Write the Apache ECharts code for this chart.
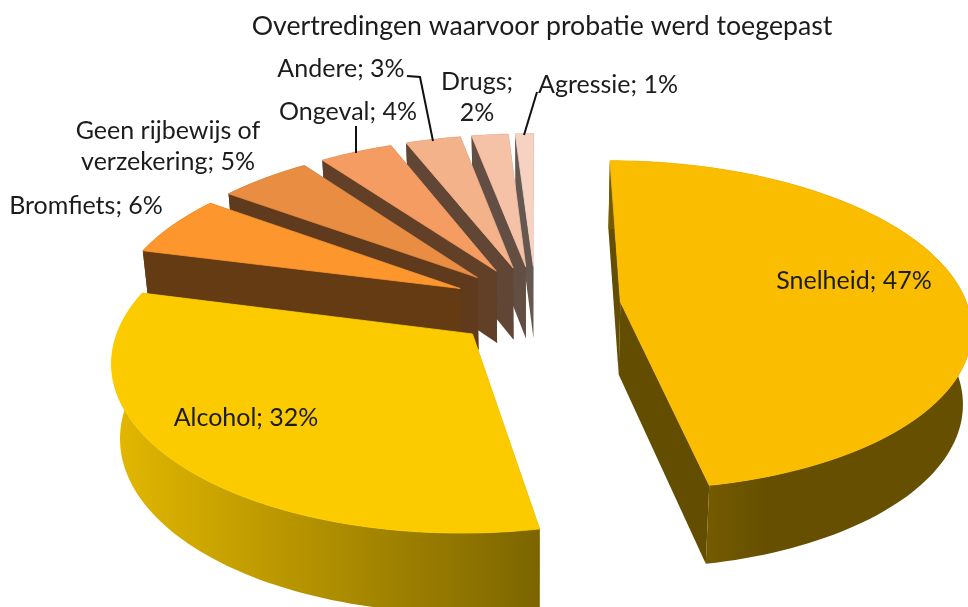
<!DOCTYPE html>
<html>
<head>
<meta charset="utf-8">
<style>html,body{margin:0;padding:0;background:#fff}#c{width:968px;height:607px}</style>
<script src="https://cdn.jsdelivr.net/npm/echarts@6/dist/echarts.min.js"></script>
</head>
<body>
<div id="c"></div>
<script>
const chartTitle = 'Overtredingen waarvoor probatie werd toegepast';
const categories = ['Snelheid','Alcohol','Bromfiets','Geen rijbewijs of verzekering','Ongeval','Andere','Drugs','Agressie'];
const percentages = [47,32,6,5,4,3,2,1];

const topColors  = ['#FBBD00','#FBCB00','#FD962D','#E98D42','#F59C62','#F4B28B','#F5C2A8','#F5D2C2'];
const wallColors = ['#634D00','#7C6500','#653B13','#5F3A1C','#623F27','#614635','#624E42','#645850'];
const outerStops = [['#745A00','#665000'],['#E3B800','#7C6500'],null,null,null,null,null,null];

// perspective model of the tilted, exploded pie
const P = {cx:536, cy:305.5, sx:347, sy:162, persp:0.142, ex:0.245, ey:0.25, depth:73, floorScale:0.98};
const total = percentages.reduce((a,b)=>a+b,0);
const rad = d => d*Math.PI/180;
function project(theta, r, mid, drop){
  const Xw = r*Math.sin(rad(theta)) + P.ex*Math.sin(rad(mid));
  const Yw = r*Math.cos(rad(theta)) + P.ey*Math.cos(rad(mid));
  const w = 1 + P.persp*Yw;
  const d = drop ? P.depth/Math.sqrt(w) : 0;
  const s = drop ? P.floorScale : 1;
  return [P.cx + s*P.sx*Xw/w, P.cy - P.sy*Yw/w + d];
}
function renderSlice(params, api){
  const i = params.dataIndex;
  let before = 0;
  for(let k=0;k<i;k++) before += percentages[k];
  const a0 = before/total*360, a1 = (before+api.value(0))/total*360, mid=(a0+a1)/2;
  const rank = i<2 ? 6+i : 7-i;
  const top=[], bottom=[], n=Math.max(6,Math.round((a1-a0)/1.5));
  for(let k=0;k<=n;k++){
    const t=a0+(a1-a0)*k/n;
    top.push(project(t,1,mid,false));
    bottom.push(project(t,1,mid,true));
  }
  const apex=project(0,0,mid,false), apexB=project(0,0,mid,true);
  const poly=(pts,fill,order,stroke)=>({type:'polygon',z2:rank*10+order,shape:{points:pts},
    style:{fill:fill,stroke:stroke||null,lineWidth:stroke?0.8:0}});
  let outerFill = wallColors[i];
  if(outerStops[i]){
    const xs=top.concat(bottom).map(p=>p[0]);
    const leftToRight = i===1;
    const gx0 = leftToRight ? Math.min.apply(null,xs) : top[n][0];
    const gx1 = leftToRight ? top[0][0] : top[n][0]+55;
    outerFill={type:'linear',global:true,x:gx0,y:0,x2:gx1,y2:0,
      colorStops:[{offset:0,color:outerStops[i][0]},{offset:1,color:outerStops[i][1]}]};
  }
  return {type:'group',children:[
    poly([top[0],apex,apexB,bottom[0]],wallColors[i],0),
    poly([top[n],apex,apexB,bottom[n]],wallColors[i],1),
    poly(top.concat(bottom.slice().reverse()),outerFill,2),
    poly([apex].concat(top),topColors[i],3,topColors[i])
  ]};
}

const lineBreaks = {'Geen rijbewijs of verzekering':'Geen rijbewijs of\nverzekering','Drugs':'Drugs;\n'};
function labelText(i){
  const c=categories[i], lb=lineBreaks[c];
  if(c==='Drugs') return lb+percentages[i]+'%';
  return (lb||c)+'; '+percentages[i]+'%';
}
const labelCenters=[[854,281],[246,418],[86,206],[168,146],[348,112],[341,69],[477,97],[608,85]];
const FONT='Lato, "Open Sans", sans-serif';
const textColor='#1c1c1c';
const labelEls=categories.map((c,i)=>({type:'text',x:labelCenters[i][0],y:labelCenters[i][1],z:20,
  style:{text:labelText(i),fontFamily:FONT,fontSize:25,lineHeight:31,fill:textColor,textAlign:'center',textVerticalAlign:'middle'}}));
const leaders=[
  [[356,126],[356,153]],
  [[407,76],[420,77],[433,141]],
  [[537,92],[524,135]]
];
const leaderEls=leaders.map(pts=>({type:'polyline',z:20,shape:{points:pts},style:{stroke:'#111',lineWidth:2,fill:null}}));
const titleEl={type:'text',x:542,y:26,z:20,style:{text:chartTitle,fontFamily:FONT,fontSize:26.7,fill:textColor,textAlign:'center',textVerticalAlign:'middle'}};

const chart=echarts.init(document.getElementById('c'),null,{renderer:'canvas'});
chart.setOption({
  animation:false,
  backgroundColor:'#fff',
  graphic:{elements:[titleEl].concat(labelEls,leaderEls)},
  series:[{type:'custom',coordinateSystem:'none',silent:true,clip:false,
    data:percentages.map((v,i)=>({name:categories[i],value:[v]})),
    renderItem:renderSlice}]
});
</script>
</body>
</html>
